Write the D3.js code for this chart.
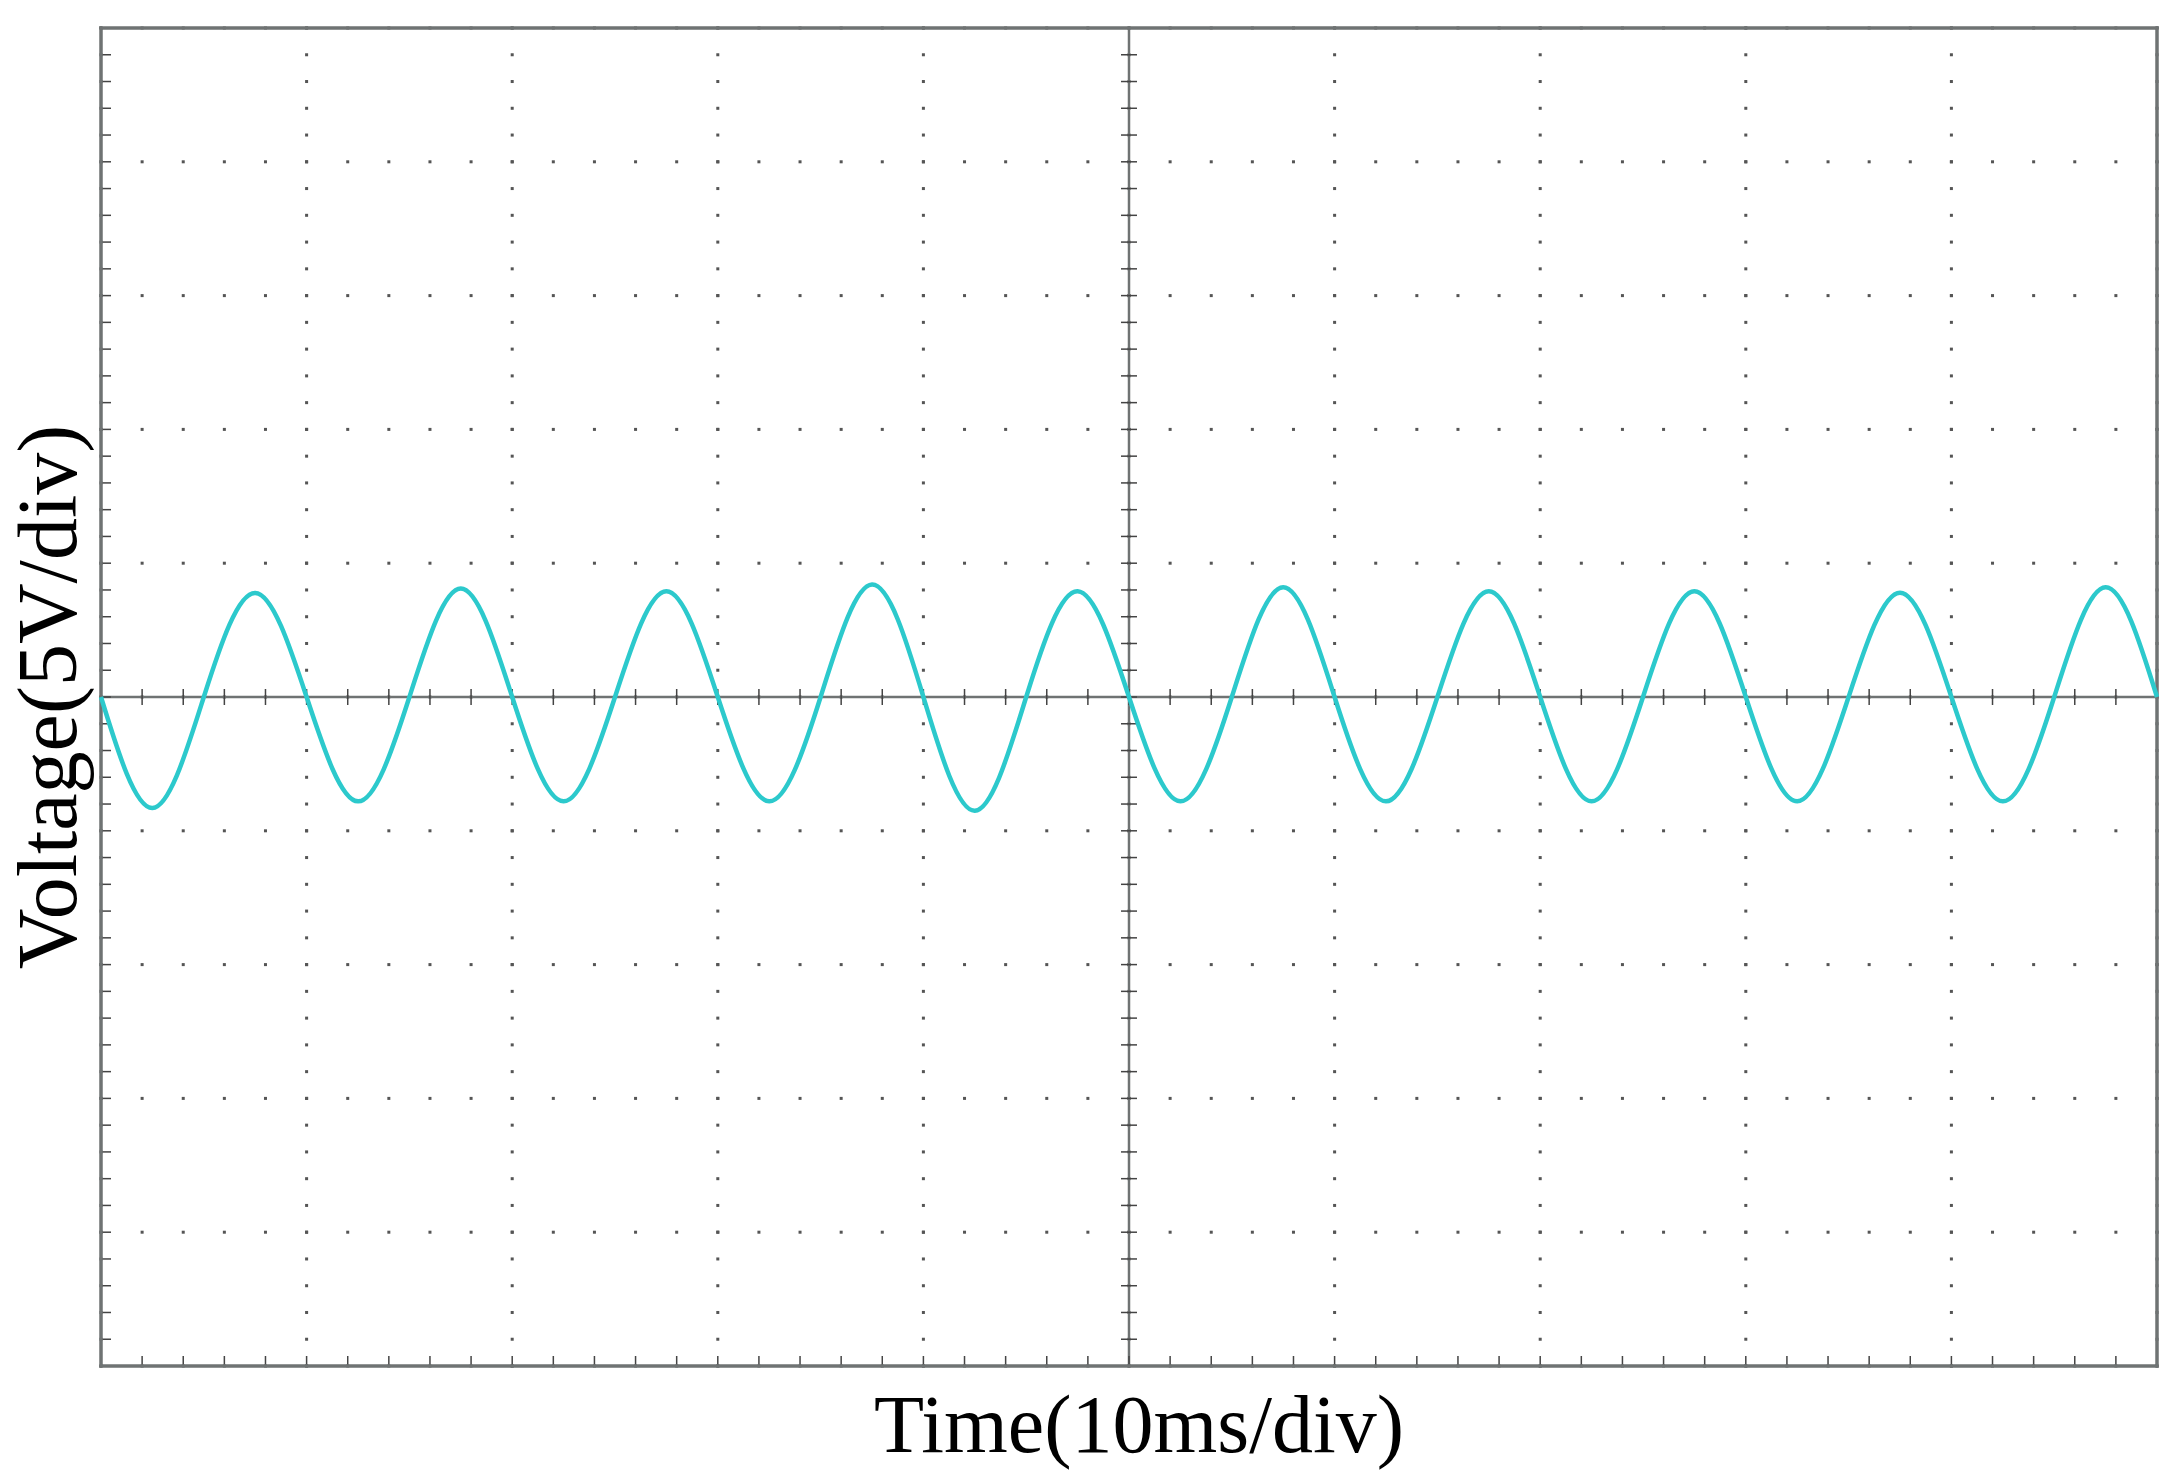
<!DOCTYPE html>
<html><head><meta charset="utf-8">
<script src="https://cdn.jsdelivr.net/npm/d3@7"></script>
<style>body{margin:0;background:#fff}</style>
</head><body>
<svg id="chart" width="2179" height="1481"></svg>
<script>
// time in ms (quarter cycles), voltage in V
var timeMs = [0,2.5,5,7.5,10,12.5,15,17.5,20,22.5,25,27.5,30,32.5,35,37.5,40,42.5,45,47.5,50,
  52.5,55,57.5,60,62.5,65,67.5,70,72.5,75,77.5,80,82.5,85,87.5,90,92.5,95,97.5,100];
var voltage = [0,-4.15,0,3.89,0,-3.9,0,4.05,0,-3.9,0,3.95,0,-3.9,0,4.2,0,-4.25,0,3.95,0,
  -3.9,0,4.1,0,-3.9,0,3.95,0,-3.9,0,3.95,0,-3.9,0,3.9,0,-3.9,0,4.1,0];
var xDivs = d3.range(0, 101, 10);   // 10 ms/div
var yDivs = d3.range(-25, 26, 5);   // 5 V/div

var svg = d3.select('#chart');
var L = 101, R = 2157, T = 28, B = 1366;
var x = d3.scaleLinear().domain([0,100]).range([L,R]);
var y = d3.scaleLinear().domain([-25,25]).range([B,T]);
var axisCol = '#6f7373';

// dotted grid
var g = svg.append('g');
var minorX = d3.range(0, 100.01, 2), minorY = d3.range(-25, 25.01, 1);
xDivs.forEach(function(t){
  minorY.forEach(function(v){
    g.append('rect').attr('x', x(t)-1.5).attr('y', y(v)-1.5).attr('width',3).attr('height',3).attr('fill','#555');
  });
});
yDivs.forEach(function(v){
  minorX.forEach(function(t){
    g.append('rect').attr('x', x(t)-1.5).attr('y', y(v)-1.5).attr('width',3).attr('height',3).attr('fill','#555');
  });
});

// centre crosshair with minor ticks
g.append('line').attr('x1',x(50)).attr('x2',x(50)).attr('y1',T).attr('y2',B).attr('stroke',axisCol).attr('stroke-width',2.5);
g.append('line').attr('x1',L).attr('x2',R).attr('y1',y(0)).attr('y2',y(0)).attr('stroke',axisCol).attr('stroke-width',2.5);
minorX.forEach(function(t){
  g.append('line').attr('x1',x(t)).attr('x2',x(t)).attr('y1',y(0)-8).attr('y2',y(0)+8).attr('stroke','#444').attr('stroke-width',1.5);
  g.append('line').attr('x1',x(t)).attr('x2',x(t)).attr('y1',B-10).attr('y2',B).attr('stroke','#444').attr('stroke-width',1.5);
});
minorY.forEach(function(v){
  g.append('line').attr('x1',x(50)-8).attr('x2',x(50)+8).attr('y1',y(v)).attr('y2',y(v)).attr('stroke','#444').attr('stroke-width',1.5);
  g.append('line').attr('x1',L).attr('x2',L+10).attr('y1',y(v)).attr('y2',y(v)).attr('stroke','#444').attr('stroke-width',1.5);
});

// frame
svg.append('rect').attr('x',L).attr('y',T).attr('width',R-L).attr('height',B-T)
  .attr('fill','none').attr('stroke',axisCol).attr('stroke-width',3.5);

// trace
var line = d3.line().x(function(d,i){return x(timeMs[i]);}).y(function(d){return y(d);}).curve(d3.curveNatural);
svg.append('path').attr('d', line(voltage))
  .attr('fill','none').attr('stroke','#2cc9cc').attr('stroke-width',4.5);

// labels
svg.append('text').attr('x',(L+R)/2+10).attr('y',1452).attr('text-anchor','middle')
  .attr('font-family','Liberation Serif, Times New Roman, serif').attr('font-size',82).text('Time(10ms/div)');
svg.append('text').attr('transform','translate(76,'+y(0)+') rotate(-90)').attr('text-anchor','middle')
  .attr('font-family','Liberation Serif, Times New Roman, serif').attr('font-size',84).text('Voltage(5V/div)');
</script>
</body></html>
